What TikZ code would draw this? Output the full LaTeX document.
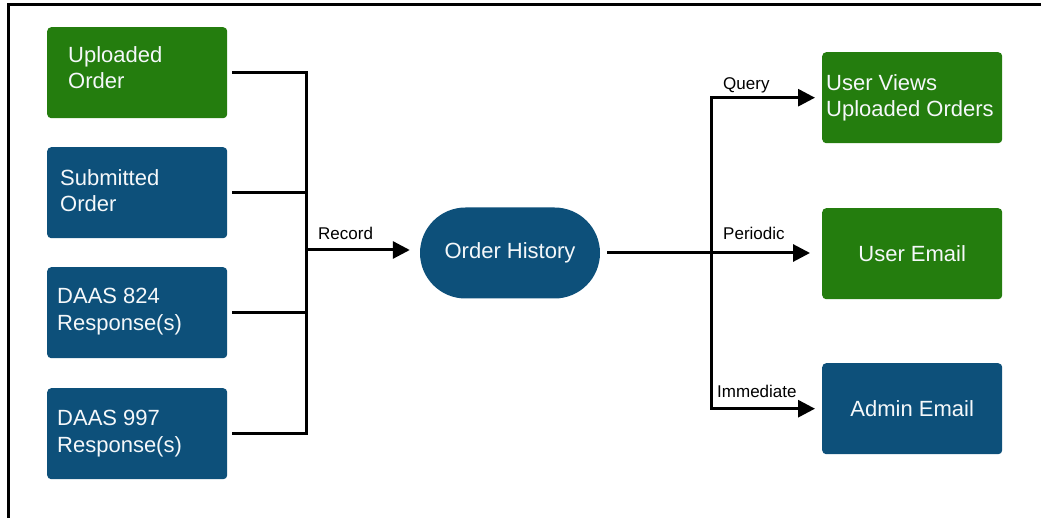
\documentclass[tikz,border=0pt]{standalone}
\usepackage{fontspec}
\setmainfont{Liberation Sans}
\usetikzlibrary{arrows.meta,shapes.misc}
\definecolor{boxgreen}{RGB}{36,125,14}
\definecolor{boxblue}{RGB}{13,80,122}
\definecolor{boxtext}{RGB}{245,248,250}
\tikzset{
  box/.style={rectangle, rounded corners=4pt, minimum width=180pt, minimum height=91pt,
    anchor=north west, inner sep=0pt},
  btxt/.style={text=boxtext, font=\fontsize{22}{26.5}\selectfont, inner sep=0pt},
  ltxt/.style={btxt, anchor=west, align=left},
  ctxt/.style={btxt, align=center},
  gbox/.style={box, fill=boxgreen},
  bbox/.style={box, fill=boxblue},
  conn/.style={line width=3pt, draw=black},
  arr/.style={conn, -{Triangle[length=17pt,width=17pt]}},
  lab/.style={anchor=base west, inner sep=0pt, font=\fontsize{17}{19}\selectfont},
  frame/.style={line width=3pt, draw=black}
}
\begin{document}
\begin{tikzpicture}[x=1pt,y=-1pt]
\useasboundingbox (0,0) rectangle (1041,518);
\draw[frame] (8,518) -- (8,5) -- (1041,5);
% left boxes
\node[gbox] (up) at (47,27) {};
\node[bbox] (sub) at (47,147) {};
\node[bbox] (d824) at (47,267) {};
\node[bbox] (d997) at (47,388) {};
\node[ltxt] (upt) at ([xshift=21pt,yshift=5pt]up.west) {Uploaded\\Order};
\node[ltxt] (subt) at ([xshift=13pt,yshift=2pt]sub.west) {Submitted\\Order};
\node[ltxt] (d824t) at ([xshift=10pt,yshift=1pt]d824.west) {DAAS 824\\Response(s)};
\node[ltxt] (d997t) at ([xshift=10pt]d997.west) {DAAS 997\\Response(s)};
% center
\node[rounded rectangle, fill=boxblue, minimum width=180pt, minimum height=91pt, inner sep=0pt]
  (oh) at (510,253) {};
\node[ctxt] (oht) at (oh.center) {Order History};
% right boxes
\node[gbox] (uv) at (822,52) {};
\node[gbox] (ue) at (822,208) {};
\node[bbox] (ae) at (822,363) {};
\node[ltxt] (uvt) at ([xshift=4pt]uv.west) {User Views\\Uploaded Orders};
\node[ctxt] (uet) at (ue.center) {User Email};
\node[ctxt] (aet) at (ae.center) {Admin Email};
% junctions
\coordinate (jl) at (306,250);
\coordinate (jr) at (711,253);
% left connectors
\draw[conn, shorten <=5pt] (up.east) -| (jl);
\draw[conn, shorten <=5pt] (sub.east) -| (jl);
\draw[conn, shorten <=5pt] (d824.east) -| (jl);
\draw[conn, shorten <=5pt] (d997.east) -| (jl);
\draw[arr, shorten >=10pt] (jl) -- (jl -| oh.west);
% right connectors
\draw[conn, shorten <=7pt] (oh.east) -- (jr);
\draw[arr, shorten >=7pt] (jr) |- (uv.west);
\draw[arr, shorten >=12pt] (jr) -- (jr -| ue.west);
\draw[arr, shorten >=7pt] (jr) |- (ae.west);
% labels
\node[lab] (lrec) at (318,240) {Record};
\node[lab] (lq) at (723,90) {Query};
\node[lab] (lp) at (723,240) {Periodic};
\node[lab] (li) at (717,397) {Immediate};
\end{tikzpicture}
\end{document}
